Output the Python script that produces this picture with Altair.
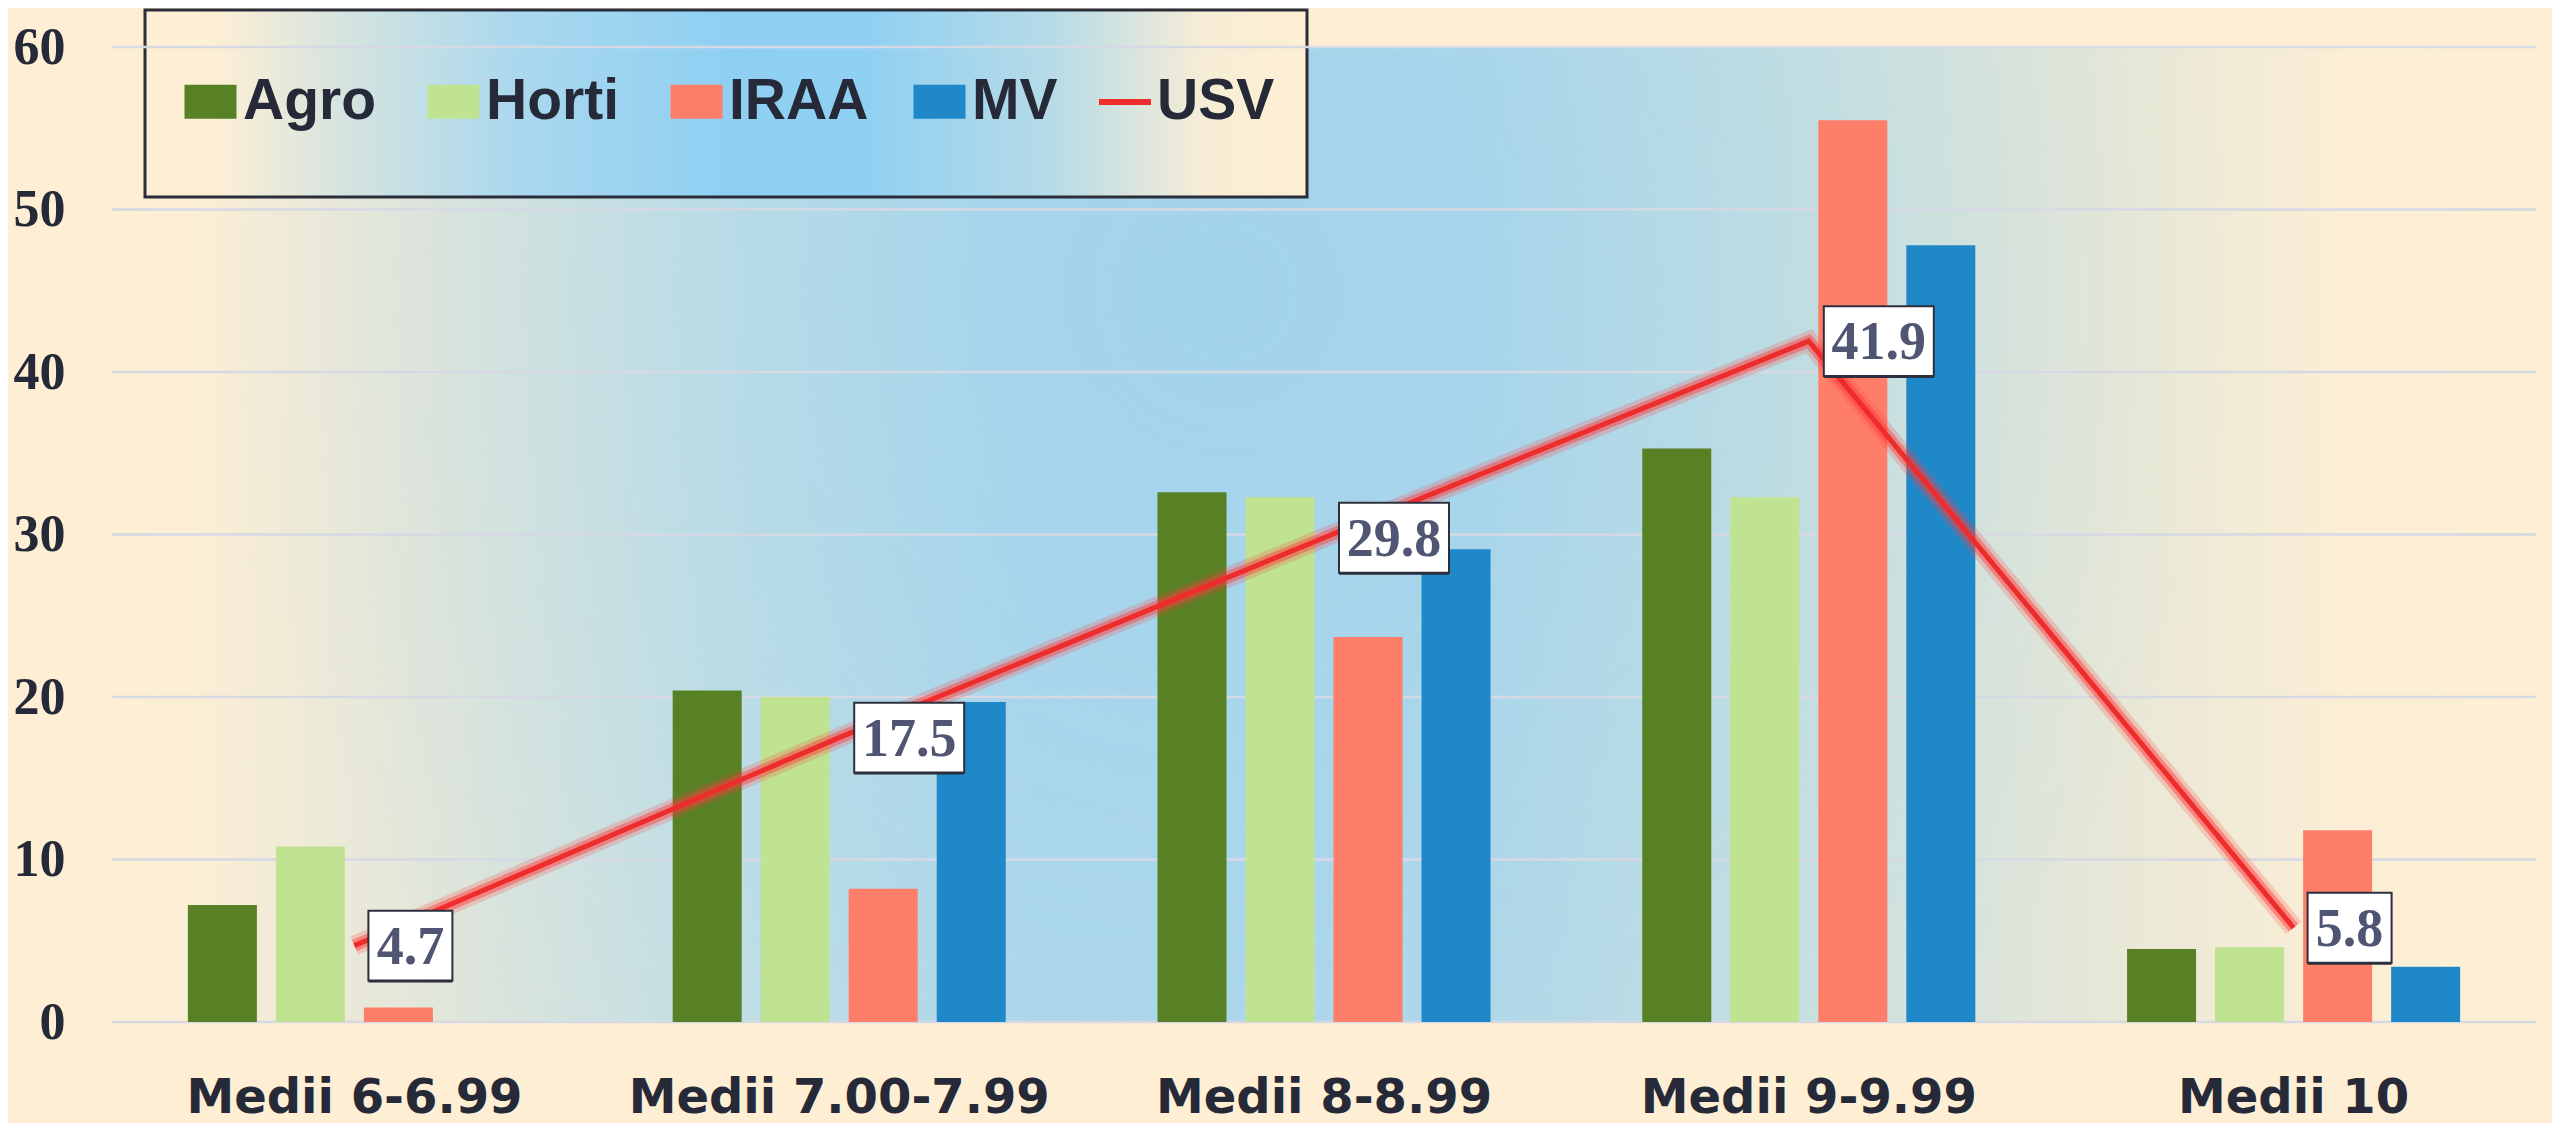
import altair as alt
import pandas as pd

# ---------------- data ----------------
categories = ["Medii 6-6.99", "Medii 7.00-7.99", "Medii 8-8.99", "Medii 9-9.99", "Medii 10"]
series = ["Agro", "Horti", "IRAA", "MV"]
agro = [7.2, 20.4, 32.6, 35.3, 4.5]
horti = [10.8, 20.0, 32.3, 32.3, 4.6]
iraa = [0.9, 8.2, 23.7, 55.5, 11.8]
mv = [0.0, 19.7, 29.1, 47.8, 3.4]
usv = [4.7, 17.5, 29.8, 41.9, 5.8]
y_ticks = [0, 10, 20, 30, 40, 50, 60]

bar_colors = ["#578124", "#bfe391", "#ff7e6a", "#1f88c9"]
line_color = "#ee2c2c"
text_color = "#262a38"

rows = []
for s, vals in zip(series, [agro, horti, iraa, mv]):
    for c, v in zip(categories, vals):
        rows.append({"cat": c, "series": s, "val": v})
bars_df = pd.DataFrame(rows)
line_df = pd.DataFrame({"cat": categories, "usv": usv,
                        "label": [f"{v:.1f}" for v in usv],
                        "lineser": ["USV"] * len(usv)})
ticks_df = pd.DataFrame({"t": y_ticks})
one_df = pd.DataFrame({"a": [0]})

W, H = 2424, 975

xaxis = alt.Axis(title=None, labelAngle=0, labelFont="DejaVu Sans",
                 labelFontWeight="bold", labelFontSize=48, labelColor=text_color,
                 labelBaseline="alphabetic", labelPadding=90,
                 domain=False, ticks=False, tickSize=0, grid=False, labelLimit=600)
yaxis = alt.Axis(title=None, values=y_ticks, labelFont="Liberation Serif",
                 labelFontWeight="bold", labelFontSize=52, labelColor=text_color,
                 labelPadding=47, domain=False, ticks=False, tickSize=0, grid=False)
xscale = alt.Scale(paddingInner=0.313, paddingOuter=0.1565)
yscale = alt.Scale(domain=[0, 60], nice=False, zero=True)


def X():
    return alt.X("cat:N", sort=categories, scale=xscale, axis=xaxis)


def Y(field):
    return alt.Y(field, scale=yscale, axis=yaxis)


# ---------------- background ----------------
bg_grad = alt.LinearGradient(
    gradient="linear", x1=0, x2=1, y1=0, y2=0,
    stops=[
        alt.GradientStop(color="#feefd4", offset=0),
        alt.GradientStop(color="#fbeed5", offset=0.035),
        alt.GradientStop(color="#e2e6da", offset=0.13),
        alt.GradientStop(color="#c4dfe4", offset=0.25),
        alt.GradientStop(color="#b0d8ea", offset=0.38),
        alt.GradientStop(color="#b2d8e9", offset=0.56),
        alt.GradientStop(color="#c8e0e0", offset=0.69),
        alt.GradientStop(color="#e6e7d7", offset=0.82),
        alt.GradientStop(color="#fbeed5", offset=0.92),
        alt.GradientStop(color="#feefd4", offset=1),
    ])
bg = alt.Chart(one_df).mark_rect(fill=bg_grad).encode(
    x=alt.value(0), x2=alt.value(W), y=alt.value(0), y2=alt.value(H))

rad_grad = alt.RadialGradient(
    gradient="radial", x1=0.46, y1=0.4, x2=0.46, y2=0.4, r1=0, r2=0.42,
    stops=[
        alt.GradientStop(color="rgba(140,205,240,0.4)", offset=0),
        alt.GradientStop(color="rgba(140,205,240,0)", offset=1),
    ])
bg2 = alt.Chart(one_df).mark_rect(fill=rad_grad).encode(
    x=alt.value(0), x2=alt.value(W), y=alt.value(0), y2=alt.value(H))

# legend box
leg_grad = alt.LinearGradient(
    gradient="linear", x1=0, x2=1, y1=0, y2=0,
    stops=[
        alt.GradientStop(color="#feefd4", offset=0),
        alt.GradientStop(color="#fdefd5", offset=0.06),
        alt.GradientStop(color="#d2e3e0", offset=0.18),
        alt.GradientStop(color="#aad8ee", offset=0.32),
        alt.GradientStop(color="#8fd0f2", offset=0.5),
        alt.GradientStop(color="#90d0f2", offset=0.62),
        alt.GradientStop(color="#b6dbe7", offset=0.78),
        alt.GradientStop(color="#f6edd6", offset=0.91),
        alt.GradientStop(color="#feefd4", offset=1),
    ])
legend_box = alt.Chart(one_df).mark_rect(fill=leg_grad, stroke="#2a2d3a", strokeWidth=3).encode(
    x=alt.value(33), x2=alt.value(1195), y=alt.value(-37), y2=alt.value(150))

grid = alt.Chart(ticks_df).mark_rule(color="#d6d9e4", strokeWidth=2.5).encode(
    y=Y("t:Q"))

# ---------------- bars ----------------
bars = alt.Chart(bars_df).mark_bar().encode(
    x=X(),
    xOffset=alt.XOffset("series:N", sort=series,
                        scale=alt.Scale(paddingInner=0.216, paddingOuter=0)),
    y=Y("val:Q"),
    color=alt.Color("series:N", sort=series,
                    scale=alt.Scale(domain=series, range=bar_colors),
                    legend=alt.Legend(
                        title=None, orient="none", legendX=70, legendY=26,
                        direction="horizontal", columns=4, gridAlign="all",
                        columnPadding=42, padding=0,
                        symbolType="M-1,-0.654L1,-0.654L1,0.654L-1,0.654Z",
                        symbolSize=2704, symbolStrokeWidth=0, symbolOpacity=1,
                        labelFont="Liberation Sans", labelFontWeight="bold",
                        labelFontSize=57, labelColor=text_color, labelOffset=4,
                        labelLimit=400)),
)

# ---------------- line ----------------
glow1 = alt.Chart(line_df).mark_line(color="#ff4040", strokeWidth=20, opacity=0.22).encode(
    x=X(), y=Y("usv:Q"))
glow2 = alt.Chart(line_df).mark_line(color="#ff3a3a", strokeWidth=12, opacity=0.45).encode(
    x=X(), y=Y("usv:Q"))
line = alt.Chart(line_df).mark_line(strokeWidth=5).encode(
    x=X(), y=Y("usv:Q"),
    stroke=alt.Stroke("lineser:N",
                      scale=alt.Scale(domain=["USV"], range=[line_color]),
                      legend=alt.Legend(
                          title=None, orient="none", legendX=984, legendY=26,
                          direction="horizontal", padding=0,
                          symbolType="stroke", symbolSize=2704, symbolStrokeWidth=6,
                          labelFont="Liberation Sans", labelFontWeight="bold",
                          labelFontSize=57, labelColor=text_color, labelOffset=3,
                          labelLimit=400)),
)

# ---------------- data labels ----------------
big_shape = "M-1,-0.636L1,-0.636L1,0.636L-1,0.636Z"
small_shape = "M-1,-0.833L1,-0.833L1,0.833L-1,0.833Z"


def label_layers(flt, shape, size, off):
    base = alt.Chart(line_df).transform_filter(flt)
    shadow = base.mark_point(shape=shape, size=size, filled=True, fill="#2c2f3d",
                             strokeWidth=0, opacity=1, xOffset=off, yOffset=2).encode(
        x=X(), y=Y("usv:Q"))
    box = base.mark_point(shape=shape, size=size, filled=True, fill="white",
                          stroke="#2c2f3d", strokeWidth=2, opacity=1, xOffset=off).encode(
        x=X(), y=Y("usv:Q"))
    txt = base.mark_text(font="Liberation Serif", fontWeight="bold", fontSize=54,
                         color="#4f5572", align="center", baseline="middle",
                         dx=off, dy=2).encode(
        x=X(), y=Y("usv:Q"), text="label:N")
    return [shadow, box, txt]


big = label_layers("datum.usv >= 10", big_shape, 12100, 70)
small = label_layers("datum.usv < 10", small_shape, 7056, 56)

chart = alt.layer(bg, bg2, legend_box, grid, bars, glow1, glow2, line, *big, *small).properties(
    width=W, height=H,
    padding={"left": 104, "top": 39, "right": 16, "bottom": 101},
    autosize=alt.AutoSizeParams(type="none"),
).configure(background="#feefd4").configure_view(stroke=None)

chart.save("out.html", embed_options={"renderer": "svg", "actions": False})
